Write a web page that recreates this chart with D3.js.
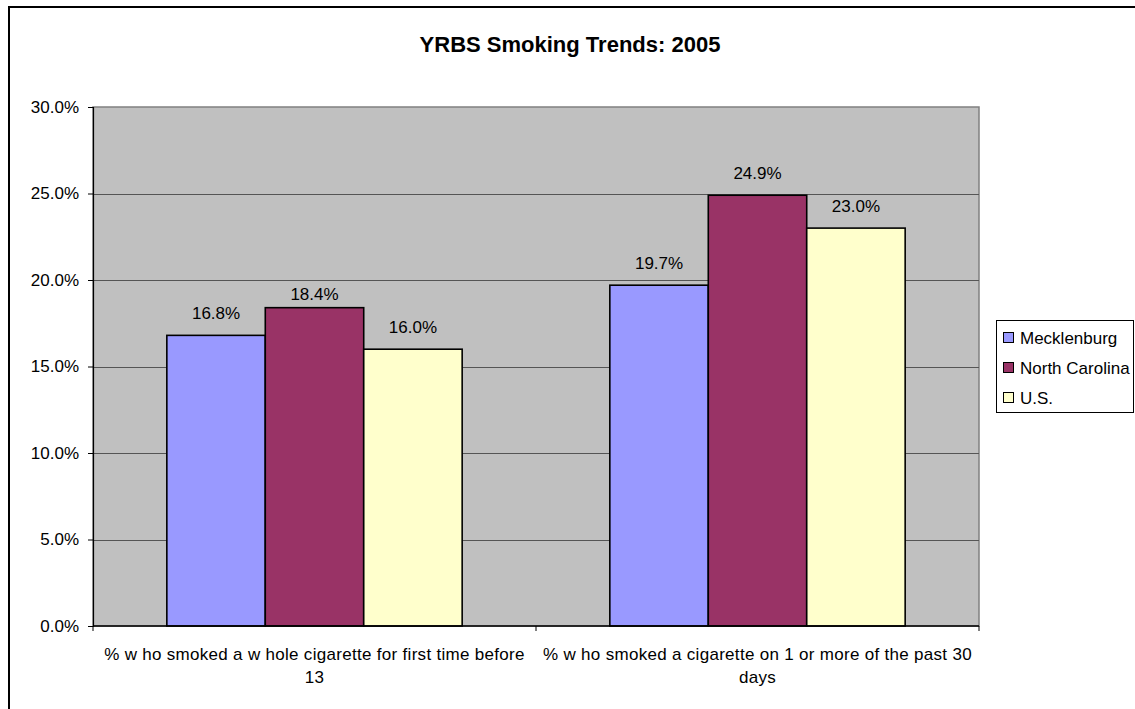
<!DOCTYPE html>
<html>
<head>
<meta charset="utf-8">
<script src="https://cdn.jsdelivr.net/npm/d3@7"></script>
<style>
  html, body { margin: 0; padding: 0; background: #fff; }
  svg { display: block; font-family: "Liberation Sans", Arial, sans-serif; }
</style>
</head>
<body>
<svg id="chart" width="1135" height="709"></svg>
<script>
const title = "YRBS Smoking Trends: 2005";
const categories = [
  ["% w ho smoked a w hole cigarette for first time before", "13"],
  ["% w ho smoked a cigarette on 1 or more of the past 30", "days"]
];
const seriesNames = ["Mecklenburg", "North Carolina", "U.S."];
const mecklenburg = [16.8, 19.7];
const northCarolina = [18.4, 24.9];
const us = [16.0, 23.0];
const yTicks = [0, 5, 10, 15, 20, 25, 30];
const seriesValues = [mecklenburg, northCarolina, us];
const colors = ["#9999FF", "#993366", "#FFFFCC"];

const svg = d3.select("#chart");
const W = 1135, H = 709;
const plot = { left: 93, top: 107, right: 979, bottom: 626 };

// outer chart frame
svg.append("rect").attr("x", 9).attr("y", 7).attr("width", W + 10).attr("height", H + 10)
  .attr("fill", "#fff").attr("stroke", "#000").attr("stroke-width", 2);

// title
svg.append("text").attr("x", 570).attr("y", 51.5).attr("text-anchor", "middle")
  .attr("font-size", 22).attr("font-weight", "bold").attr("fill", "#000").text(title);

const y = d3.scaleLinear().domain([0, 30]).range([plot.bottom, plot.top]);
const x0 = d3.scaleBand().domain(d3.range(categories.length)).range([plot.left, plot.right]).padding(0);
const innerW = x0.bandwidth() * 3 / 4.5;
const x1 = d3.scaleBand().domain(d3.range(seriesNames.length)).range([0, innerW]).padding(0);

// plot background
svg.append("rect").attr("x", plot.left).attr("y", plot.top)
  .attr("width", plot.right - plot.left).attr("height", plot.bottom - plot.top)
  .attr("fill", "#C0C0C0").attr("stroke", "#808080").attr("stroke-width", 1.5);

// gridlines
svg.append("g").selectAll("line").data(yTicks.filter(d => d > 0 && d < 30)).join("line")
  .attr("x1", plot.left).attr("x2", plot.right)
  .attr("y1", d => Math.round(y(d)) + 0.5).attr("y2", d => Math.round(y(d)) + 0.5)
  .attr("stroke", "#555").attr("stroke-width", 1);

// bars
const groups = svg.append("g").selectAll("g").data(categories.map((c, i) => i)).join("g")
  .attr("transform", i => `translate(${x0(i) + (x0.bandwidth() - innerW) / 2},0)`);
groups.selectAll("rect").data(i => seriesValues.map((s, j) => ({ j, v: s[i] }))).join("rect")
  .attr("x", d => x1(d.j)).attr("width", x1.bandwidth())
  .attr("y", d => y(d.v)).attr("height", d => y(0) - y(d.v))
  .attr("fill", d => colors[d.j]).attr("stroke", "#000").attr("stroke-width", 1.6);

// data labels
groups.selectAll("text").data(i => seriesValues.map((s, j) => ({ i, j, v: s[i] }))).join("text")
  .attr("x", d => x1(d.j) + x1.bandwidth() / 2)
  .attr("y", d => y(d.v) - ((d.i === 0 && d.j === 1) ? 7.5 : 16.5))
  .attr("text-anchor", "middle").attr("font-size", 17).attr("fill", "#000")
  .text(d => d.v.toFixed(1) + "%");

// y axis
const yAxis = svg.append("g").attr("transform", `translate(${plot.left},0)`)
  .call(d3.axisLeft(y).tickValues(yTicks).tickSize(5).tickPadding(9).tickFormat(d => d.toFixed(1) + "%"));
yAxis.select(".domain").attr("stroke", "#000").attr("stroke-width", 1.2);
yAxis.selectAll(".tick line").attr("stroke", "#000");
yAxis.selectAll(".tick text").attr("font-size", 17).attr("fill", "#000")
  .attr("font-family", "Liberation Sans, Arial, sans-serif");

// x axis
const xTickPos = d3.range(categories.length + 1).map(i => i === categories.length ? plot.right : x0(i));
const xAxisG = svg.append("g");
xAxisG.append("line").attr("x1", plot.left).attr("x2", plot.right)
  .attr("y1", plot.bottom).attr("y2", plot.bottom).attr("stroke", "#000").attr("stroke-width", 1.4);
xAxisG.selectAll("line.tk").data(xTickPos).join("line").attr("class", "tk")
  .attr("x1", d => d).attr("x2", d => d).attr("y1", plot.bottom).attr("y2", plot.bottom + 5)
  .attr("stroke", "#000");
xAxisG.selectAll("text").data(categories).join("text")
  .attr("x", (d, i) => x0(i) + x0.bandwidth() / 2).attr("y", 660)
  .attr("text-anchor", "middle").attr("font-size", 17).attr("letter-spacing", 0.3).attr("fill", "#000")
  .selectAll("tspan").data(d => d).join("tspan")
  .attr("x", function () { return this.parentNode.getAttribute("x"); })
  .attr("dy", (d, k) => k === 0 ? 0 : 23).text(d => d);

// legend
const lg = svg.append("g");
lg.append("rect").attr("x", 996.5).attr("y", 320.5).attr("width", 137).attr("height", 92)
  .attr("fill", "#fff").attr("stroke", "#000").attr("stroke-width", 1);
const items = lg.selectAll("g").data(seriesNames).join("g")
  .attr("transform", (d, i) => `translate(1003,${337 + i * 30})`);
items.append("rect").attr("x", 0.5).attr("y", -4.5).attr("width", 10).attr("height", 10)
  .attr("fill", (d, i) => colors[i]).attr("stroke", "#000").attr("stroke-width", 1);
items.append("text").attr("x", 17).attr("y", 6.5).attr("font-size", 17).attr("fill", "#000").text(d => d);
</script>
</body>
</html>
